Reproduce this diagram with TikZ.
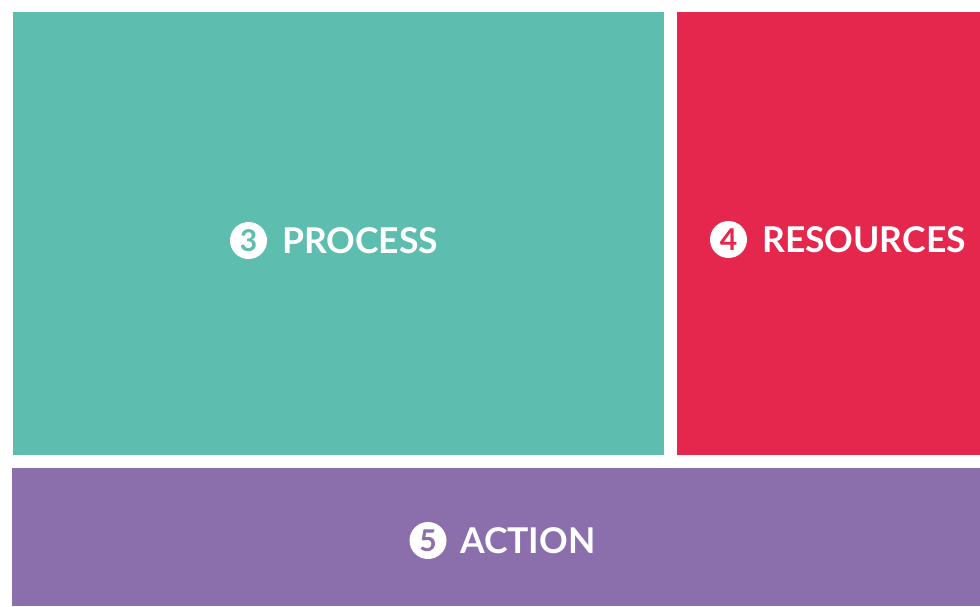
\documentclass[tikz,border=0pt]{standalone}
\usepackage{fontspec}
\setmainfont{Lato}
\definecolor{procgreen}{RGB}{93,189,174}
\definecolor{resred}{RGB}{229,38,77}
\definecolor{actpurple}{RGB}{139,111,173}
\begin{document}
\begin{tikzpicture}[x=1pt,y=-1pt,
  numdot/.style={circle,fill=white,minimum size=37pt,inner sep=0pt,
    text=#1,font=\fontsize{30}{30}\selectfont\bfseries},
  title/.style={text=white,anchor=west,inner sep=0pt,
    font=\fontsize{35.5}{35.5}\selectfont\bfseries}]
  \useasboundingbox (0,0) rectangle (980,606);
  % blocks
  \fill[procgreen] (13,12) rectangle (664,455);
  \fill[resred] (677,12) rectangle (980,455);
  \fill[actpurple] (12,468) rectangle (980,606);
  % labels
  \node[numdot=procgreen] (n3) at (248.5,240.5) {3};
  \node[title] (t3) at (282,240.5) {PROCESS};
  \node[numdot=resred] (n4) at (728.5,239.5) {4};
  \node[title] (t4) at (762,239.5) {RESOURCES};
  \node[numdot=actpurple] (n5) at (428,540.5) {5};
  \node[title] (t5) at (460,540.5) {ACTION};
\end{tikzpicture}
\end{document}
